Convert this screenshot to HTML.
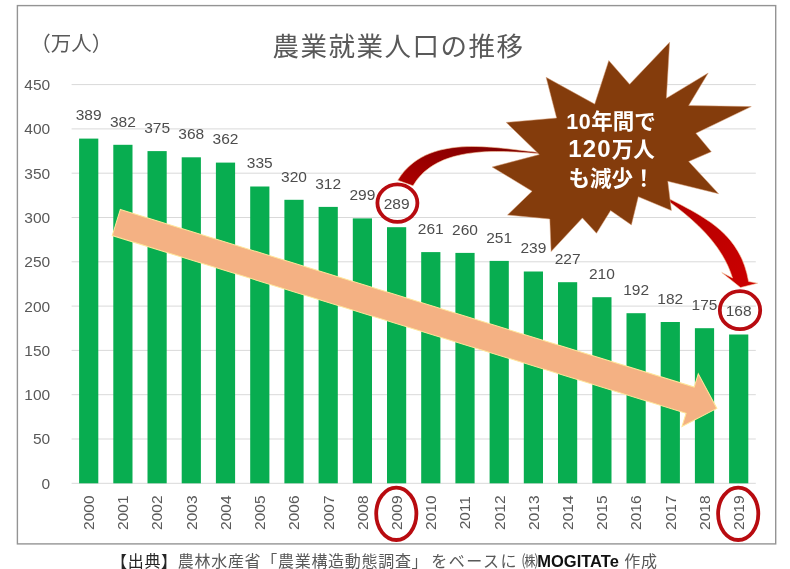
<!DOCTYPE html>
<html lang="ja"><head><meta charset="utf-8"><title>農業就業人口の推移</title>
<style>
html,body{margin:0;padding:0;background:#fff;}
body{width:790px;height:569px;overflow:hidden;position:relative;font-family:"Liberation Sans","Noto Sans CJK JP",sans-serif;}
svg{position:absolute;left:0;top:0;display:block;}
text{font-family:"Liberation Sans","Noto Sans CJK JP",sans-serif;}
.ax{font-size:15.5px;fill:#595959;}
.dl{font-size:15.5px;fill:#4d4d4d;text-anchor:middle;}
.ttl{font-family:"Noto Sans CJK JP","Liberation Sans",sans-serif;font-size:26.5px;font-weight:400;letter-spacing:1.5px;fill:#595959;text-anchor:middle;}
.unit{font-family:"Noto Sans CJK JP","Liberation Sans",sans-serif;font-size:20.5px;font-weight:400;fill:#595959;}
.burst{font-size:21.5px;font-weight:700;fill:#fff;text-anchor:middle;}
.cap{position:absolute;left:111px;top:551px;height:21px;line-height:21px;font-size:16px;letter-spacing:0.7px;color:#595959;white-space:nowrap;font-family:"Liberation Sans","Noto Sans CJK JP",sans-serif;}
.cap b.s{color:#262626;font-weight:400;}
.cap b.m{color:#111;font-weight:700;letter-spacing:0;font-size:16.5px;margin-left:-1.5px;}
.cap i{font-style:normal;letter-spacing:1.5px;margin-left:3px;}
</style></head><body>
<svg width="790" height="569" viewBox="0 0 790 569">
<defs>
<linearGradient id="rg1" x1="1" y1="0" x2="0" y2="1"><stop offset="0" stop-color="#7a0000"/><stop offset="1" stop-color="#b00000"/></linearGradient>
<linearGradient id="rg2" x1="0" y1="0" x2="1" y2="1"><stop offset="0" stop-color="#b40000"/><stop offset="1" stop-color="#cc0000"/></linearGradient>
</defs>
<rect x="0" y="0" width="790" height="569" fill="#fff"/>
<rect x="17.4" y="5.6" width="758.3" height="538.3" fill="#fff" stroke="#949494" stroke-width="1.4"/>

<line x1="71.6" x2="755.8" y1="483.3" y2="483.3" stroke="#d9d9d9" stroke-width="1"/>
<text class="ax" text-anchor="end" x="50.2" y="488.7">0</text>
<line x1="71.6" x2="755.8" y1="439.0" y2="439.0" stroke="#d9d9d9" stroke-width="1"/>
<text class="ax" text-anchor="end" x="50.2" y="444.4">50</text>
<line x1="71.6" x2="755.8" y1="394.7" y2="394.7" stroke="#d9d9d9" stroke-width="1"/>
<text class="ax" text-anchor="end" x="50.2" y="400.1">100</text>
<line x1="71.6" x2="755.8" y1="350.4" y2="350.4" stroke="#d9d9d9" stroke-width="1"/>
<text class="ax" text-anchor="end" x="50.2" y="355.8">150</text>
<line x1="71.6" x2="755.8" y1="306.1" y2="306.1" stroke="#d9d9d9" stroke-width="1"/>
<text class="ax" text-anchor="end" x="50.2" y="311.5">200</text>
<line x1="71.6" x2="755.8" y1="261.8" y2="261.8" stroke="#d9d9d9" stroke-width="1"/>
<text class="ax" text-anchor="end" x="50.2" y="267.2">250</text>
<line x1="71.6" x2="755.8" y1="217.5" y2="217.5" stroke="#d9d9d9" stroke-width="1"/>
<text class="ax" text-anchor="end" x="50.2" y="222.9">300</text>
<line x1="71.6" x2="755.8" y1="173.2" y2="173.2" stroke="#d9d9d9" stroke-width="1"/>
<text class="ax" text-anchor="end" x="50.2" y="178.6">350</text>
<line x1="71.6" x2="755.8" y1="128.9" y2="128.9" stroke="#d9d9d9" stroke-width="1"/>
<text class="ax" text-anchor="end" x="50.2" y="134.3">400</text>
<line x1="71.6" x2="755.8" y1="84.6" y2="84.6" stroke="#d9d9d9" stroke-width="1"/>
<text class="ax" text-anchor="end" x="50.2" y="90.0">450</text>
<rect x="79.1" y="138.6" width="19.2" height="344.7" fill="#08ad50"/>
<rect x="113.3" y="144.8" width="19.2" height="338.5" fill="#08ad50"/>
<rect x="147.5" y="151.1" width="19.2" height="332.2" fill="#08ad50"/>
<rect x="181.7" y="157.3" width="19.2" height="326.0" fill="#08ad50"/>
<rect x="215.9" y="162.6" width="19.2" height="320.7" fill="#08ad50"/>
<rect x="250.2" y="186.5" width="19.2" height="296.8" fill="#08ad50"/>
<rect x="284.4" y="199.8" width="19.2" height="283.5" fill="#08ad50"/>
<rect x="318.6" y="206.9" width="19.2" height="276.4" fill="#08ad50"/>
<rect x="352.8" y="218.4" width="19.2" height="264.9" fill="#08ad50"/>
<rect x="387.0" y="227.2" width="19.2" height="256.1" fill="#08ad50"/>
<rect x="421.2" y="252.1" width="19.2" height="231.2" fill="#08ad50"/>
<rect x="455.4" y="252.9" width="19.2" height="230.4" fill="#08ad50"/>
<rect x="489.6" y="260.9" width="19.2" height="222.4" fill="#08ad50"/>
<rect x="523.8" y="271.5" width="19.2" height="211.8" fill="#08ad50"/>
<rect x="558.0" y="282.2" width="19.2" height="201.1" fill="#08ad50"/>
<rect x="592.3" y="297.2" width="19.2" height="186.1" fill="#08ad50"/>
<rect x="626.5" y="313.2" width="19.2" height="170.1" fill="#08ad50"/>
<rect x="660.7" y="322.0" width="19.2" height="161.3" fill="#08ad50"/>
<rect x="694.9" y="328.2" width="19.2" height="155.1" fill="#08ad50"/>
<rect x="729.1" y="334.5" width="19.2" height="148.8" fill="#08ad50"/>
<text class="dl" x="88.7" y="120.3">389</text>
<text class="ax" text-anchor="middle" transform="translate(94.0,512.7) rotate(-90)">2000</text>
<text class="dl" x="122.9" y="126.5">382</text>
<text class="ax" text-anchor="middle" transform="translate(128.2,512.7) rotate(-90)">2001</text>
<text class="dl" x="157.1" y="132.8">375</text>
<text class="ax" text-anchor="middle" transform="translate(162.4,512.7) rotate(-90)">2002</text>
<text class="dl" x="191.3" y="139.0">368</text>
<text class="ax" text-anchor="middle" transform="translate(196.6,512.7) rotate(-90)">2003</text>
<text class="dl" x="225.5" y="144.3">362</text>
<text class="ax" text-anchor="middle" transform="translate(230.8,512.7) rotate(-90)">2004</text>
<text class="dl" x="259.8" y="168.2">335</text>
<text class="ax" text-anchor="middle" transform="translate(265.1,512.7) rotate(-90)">2005</text>
<text class="dl" x="294.0" y="181.5">320</text>
<text class="ax" text-anchor="middle" transform="translate(299.3,512.7) rotate(-90)">2006</text>
<text class="dl" x="328.2" y="188.6">312</text>
<text class="ax" text-anchor="middle" transform="translate(333.5,512.7) rotate(-90)">2007</text>
<text class="dl" x="362.4" y="200.1">299</text>
<text class="ax" text-anchor="middle" transform="translate(367.7,512.7) rotate(-90)">2008</text>
<text class="dl" x="396.6" y="208.9">289</text>
<text class="ax" text-anchor="middle" transform="translate(401.9,512.7) rotate(-90)">2009</text>
<text class="dl" x="430.8" y="233.8">261</text>
<text class="ax" text-anchor="middle" transform="translate(436.1,512.7) rotate(-90)">2010</text>
<text class="dl" x="465.0" y="234.6">260</text>
<text class="ax" text-anchor="middle" transform="translate(470.3,512.7) rotate(-90)">2011</text>
<text class="dl" x="499.2" y="242.6">251</text>
<text class="ax" text-anchor="middle" transform="translate(504.5,512.7) rotate(-90)">2012</text>
<text class="dl" x="533.4" y="253.2">239</text>
<text class="ax" text-anchor="middle" transform="translate(538.7,512.7) rotate(-90)">2013</text>
<text class="dl" x="567.6" y="263.9">227</text>
<text class="ax" text-anchor="middle" transform="translate(572.9,512.7) rotate(-90)">2014</text>
<text class="dl" x="601.9" y="278.9">210</text>
<text class="ax" text-anchor="middle" transform="translate(607.2,512.7) rotate(-90)">2015</text>
<text class="dl" x="636.1" y="294.9">192</text>
<text class="ax" text-anchor="middle" transform="translate(641.4,512.7) rotate(-90)">2016</text>
<text class="dl" x="670.3" y="303.7">182</text>
<text class="ax" text-anchor="middle" transform="translate(675.6,512.7) rotate(-90)">2017</text>
<text class="dl" x="704.5" y="309.9">175</text>
<text class="ax" text-anchor="middle" transform="translate(709.8,512.7) rotate(-90)">2018</text>
<text class="dl" x="738.7" y="316.2">168</text>
<text class="ax" text-anchor="middle" transform="translate(744.0,512.7) rotate(-90)">2019</text>
<text class="ttl" x="398.5" y="56">農業就業人口の推移</text>
<text class="unit" x="30.3" y="51">（万人）</text>
<g transform="translate(116.3,222.5) rotate(17.2)"><path d="M0,-13.7 L600.7,-13.7 L600.7,-27.5 L628.7,0 L600.7,27.5 L600.7,13.7 L0,13.7 Z" fill="#f4b183" stroke="#ffe699" stroke-width="1"/></g>
<path d="M538.4,152.4 C493.4,147.7 426.5,132.9 397.7,180.3 L413,185.8 C436.7,144.9 498.7,150.6 538.4,153.6 Z" fill="url(#rg1)" stroke="#f6c9a0" stroke-width="0.6"/>
<path d="M669.7,199 C708.1,218.7 740.5,235.1 748.6,281.5 L757.7,283.2 L740.5,287.6 L721.7,272.4 L732.5,278 C722.4,245.1 696.4,221.8 669.7,202 Z" fill="url(#rg2)" stroke="#f6c9a0" stroke-width="0.6"/>
<polygon points="629.6,84.3 669.6,42.2 666.4,98.2 708.2,73.0 688.7,105.5 751.3,106.6 695.9,133.3 711.3,151.7 688.7,161.5 718.6,193.7 667.8,181.3 671.4,210.6 638.3,196.7 631.4,224.9 610.6,210.6 596.5,233.3 582.4,217.9 551.1,251.6 549.8,219.0 507.5,215.0 532.1,191.2 492.1,167.0 539.3,154.6 506.2,122.4 556.6,118.0 546.1,77.3 594.7,104.1 608.8,60.5" fill="#843c0c" stroke="#d9a07a" stroke-width="0.5"/>
<text class="burst" x="611" y="129.2"><tspan letter-spacing="0.6">10</tspan>年間で</text>
<text class="burst" x="611.5" y="157.4"><tspan font-size="24" letter-spacing="1.2">120</tspan>万人</text>
<text class="burst" x="611.5" y="185.6">も減少！</text>
<ellipse cx="397.4" cy="203.1" rx="20" ry="18.8" fill="none" stroke="#b80b10" stroke-width="3.8"/>
<ellipse cx="740" cy="310.2" rx="20.2" ry="19" fill="none" stroke="#b80b10" stroke-width="3.8"/>
<ellipse cx="396.3" cy="513.8" rx="20.1" ry="26.2" fill="none" stroke="#b80b10" stroke-width="3.8"/>
<ellipse cx="738.2" cy="513.8" rx="20.1" ry="26.2" fill="none" stroke="#b80b10" stroke-width="3.8"/>
</svg>
<div class="cap"><b class="s">【出典】</b>農林水産省「農業構造動態調査」<i>をベースに</i><span style="margin-left:4px">㈱</span><b class="m">MOGITATe</b><span style="margin-left:5.5px">作成</span></div>
</body></html>
